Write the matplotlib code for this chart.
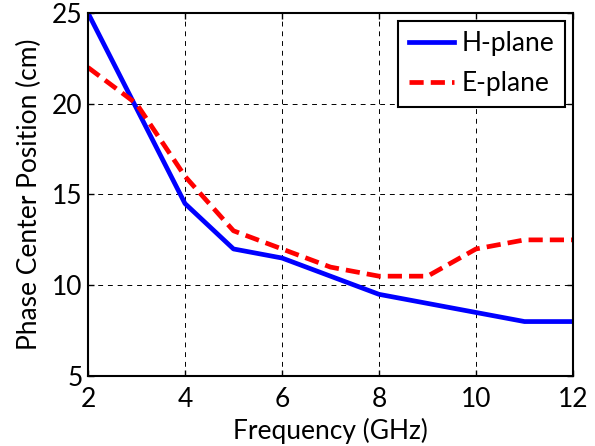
import matplotlib
matplotlib.use("Agg")
import matplotlib.pyplot as plt

# Phase centre position vs frequency for both principal planes
freq = [2, 3, 4, 5, 6, 7, 8, 9, 10, 11, 12]
h_plane = [25, 19.75, 14.5, 12, 11.5, 10.5, 9.5, 9, 8.5, 8, 8]
e_plane = [22, 20, 16, 13, 12, 11, 10.5, 10.5, 12, 12.5, 12.5]

plt.rcParams.update({
    "font.family": ["Lato", "DejaVu Sans"],
    "font.size": 19,
})

fig = plt.figure(figsize=(5.95, 4.46), dpi=100)
ax = fig.add_axes([88 / 595, 1 - 376 / 446, 485 / 595, 363 / 446])

ax.plot(freq, h_plane, color="#0000ff", lw=3.4, label="H-plane")
ax.plot(freq, e_plane, color="#ff0000", lw=3.4, ls=(0, (3, 1.5)), label="E-plane")

ax.set_xlim(2, 12)
ax.set_ylim(5, 25)
ax.set_xticks(range(2, 13, 2))
ax.set_yticks(range(5, 26, 5))
ax.grid(True, color="black", ls=(0, (5, 5)), lw=0.7)
ax.tick_params(direction="in", length=4, width=1, top=True, right=True,
               labelsize=19)
ax.tick_params(axis="x", pad=8)
ax.tick_params(axis="y", pad=4)
for s in ax.spines.values():
    s.set_linewidth(1.5)

ax.set_xlabel("Frequency (GHz)", fontsize=19, labelpad=4)
ax.set_ylabel("Phase Center Position (cm)", fontsize=19, labelpad=7)

leg = ax.legend(loc="upper right", fontsize=19, fancybox=False, framealpha=1,
                edgecolor="black", handlelength=1.7, borderaxespad=0.3,
                handletextpad=0.3, borderpad=0.4, labelspacing=0.55)
leg.get_frame().set_linewidth(1.5)

fig.savefig("out.png", dpi=100)
